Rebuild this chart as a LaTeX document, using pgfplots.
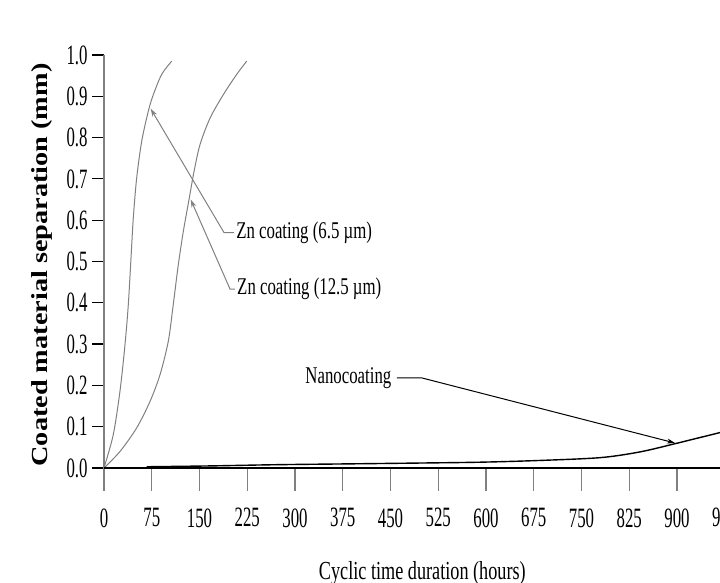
\documentclass[border=0pt]{standalone}
\usepackage{fontspec}
\setmainfont{Liberation Serif}
\newfontfamily\tickfont{Liberation Serif}[FakeStretch=0.6]
\newfontfamily\labfont{Liberation Serif}[FakeStretch=0.7]
\newfontfamily\ylabfont{Liberation Serif}[FakeStretch=1.23]
\usepackage{pgfplots}
\pgfplotsset{compat=1.18}
\usetikzlibrary{arrows.meta}

\pgfplotsset{
  frame/.style={
    at={(52pt,57.5pt)}, anchor=south west,
    scale only axis,
    width=318.35pt, height=206.5pt,
    xmin=0, xmax=1000, ymin=0, ymax=1.0,
    tick align=outside,
    /pgf/number format/assume math mode=true,
    ticklabel style={font=\tickfont\fontsize{14}{16}\selectfont},
  },
}

\begin{document}
\begin{tikzpicture}
% y axis, curves, notes
\begin{axis}[
    frame,
    hide x axis,
    axis y line*=left,
    y axis line style={gray, line width=0.8pt},
    ytick={0,0.1,...,1.0},
    ytick style={black, line width=0.6pt},
    major tick length=6pt,
    yticklabel={\pgfmathprintnumber[fixed,fixed zerofill,precision=1]{\tick}},
    yticklabel style={inner sep=2pt},
    ylabel={\bfseries Coated material separation (mm)},
    ylabel style={at={(axis description cs:-0.0974,0.4915)}, anchor=center,
                  font=\ylabfont\fontsize{11.5}{13}\selectfont},
]
% Zn coating (6.5 um)
\addplot[gray, line width=0.5pt, smooth] coordinates {
(0,0) (14.6,0.081) (25.1,0.186) (33,0.299) (38.2,0.396) (42.4,0.508)
(46,0.605) (51.3,0.702) (59.2,0.791) (69.6,0.864) (77.5,0.904)
(90.6,0.953) (106.3,0.985)
};
% Zn coating (12.5 um)
\addplot[gray, line width=0.5pt, smooth] coordinates {
(0,0) (25.1,0.040) (51.3,0.097) (72.2,0.161) (88,0.226) (101,0.307)
(108.8,0.396) (116.7,0.492) (124.6,0.573) (134,0.654) (141.4,0.718)
(150.8,0.783) (166.5,0.847) (187.4,0.904) (208.4,0.953) (224.1,0.985)
};
% Nanocoating
\addplot[black, line width=0.7pt, smooth] coordinates {
(67,0.003) (166,0.005) (272,0.008) (386,0.010) (496,0.012) (590,0.014)
(680,0.018) (779,0.025) (842,0.039) (900,0.060) (968,0.086) (1000,0.098)
};

\draw[gray, line width=0.5pt, -{Stealth[length=4pt,width=2.5pt]}]
  (axis cs:204,0.570) -- (axis cs:188.5,0.570) -- (axis cs:73.3,0.870);
\node[anchor=west, inner sep=1pt, font=\labfont\fontsize{12}{14}\selectfont]
  at (axis cs:204,0.570) {Zn coating (6.5 µm)};
\draw[gray, line width=0.5pt, -{Stealth[length=4pt,width=2.5pt]}]
  (axis cs:205.5,0.433) -- (axis cs:198,0.433) -- (axis cs:136.2,0.650);
\node[anchor=west, inner sep=1pt, font=\labfont\fontsize{12}{14}\selectfont]
  at (axis cs:205.5,0.433) {Zn coating (12.5 µm)};
\draw[black, line width=0.5pt, -{Stealth[length=4pt,width=2.5pt]}]
  (axis cs:460,0.218) -- (axis cs:499.4,0.218) -- (axis cs:896.8,0.0605);
\node[anchor=east, inner sep=1pt, font=\labfont\fontsize{12}{14}\selectfont]
  at (axis cs:455,0.218) {Nanocoating};
\end{axis}
% x axis with long grey ticks
\begin{axis}[
    frame,
    hide y axis,
    axis x line*=bottom,
    x axis line style={black, line width=0.6pt},
    xtick={0,75,...,975},
    xtick style={gray, line width=0.7pt},
    major tick length=11.5pt,
    xticklabel style={inner sep=1pt, yshift=-7.5pt},
    xlabel={Cyclic time duration (hours)},
    xlabel style={at={(axis description cs:0.5,-0.2688)}, anchor=base,
                  font=\labfont\fontsize{13}{15}\selectfont},
]
\end{axis}
\pgfresetboundingbox
\path (0,0) rectangle (360pt,291.5pt);
\end{tikzpicture}
\end{document}
